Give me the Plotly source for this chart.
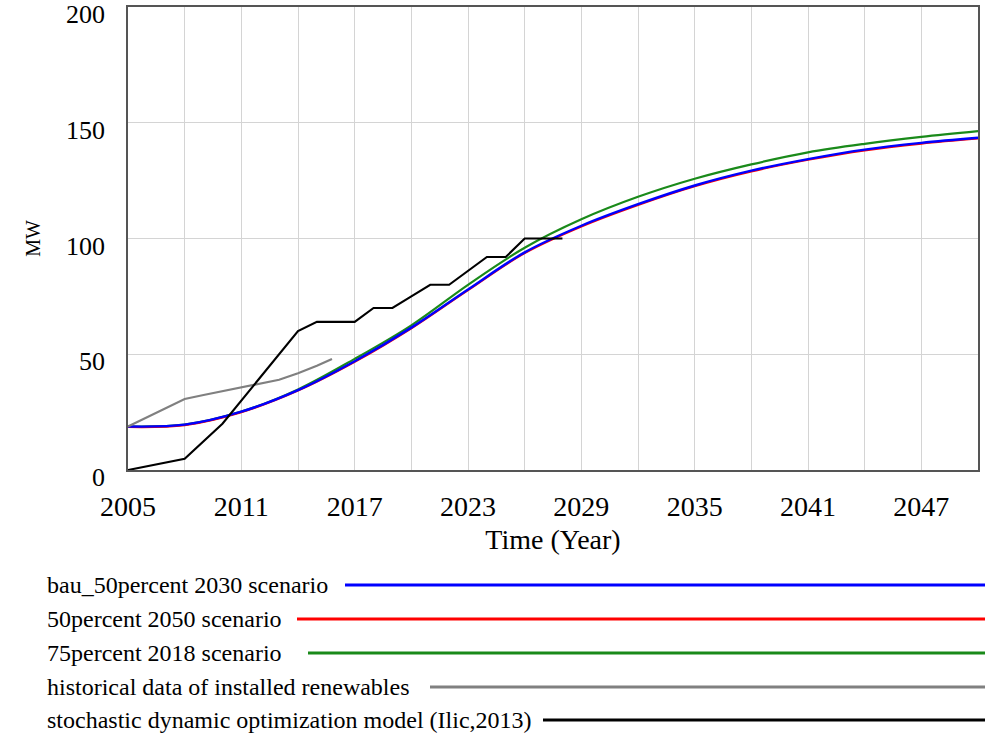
import plotly.graph_objects as go

# ---------------- data ----------------
scenario_years = [2005, 2008, 2011, 2014, 2017, 2020, 2023, 2026, 2029, 2032,
                  2035, 2038, 2041, 2044, 2047, 2050]
bau_50pct_2030 = [18.8, 19.6, 25.2, 34.5, 47.0, 61.5, 78.0, 94.0, 105.5, 114.8,
                  122.9, 129.3, 134.3, 138.4, 141.3, 143.5]
pct50_2050 = [18.6, 19.4, 25.0, 34.3, 46.7, 61.2, 77.7, 93.7, 105.2, 114.5,
              122.6, 129.0, 134.0, 138.1, 141.0, 143.2]
pct75_2018 = [18.8, 19.6, 25.2, 34.8, 48.0, 62.5, 80.0, 96.0, 108.3, 118.0,
              125.8, 132.0, 137.2, 140.9, 143.9, 146.4]

hist_years = [2005, 2008, 2009, 2010, 2011, 2012, 2013, 2014, 2015, 2015.8]
hist_values = [18.8, 30.7, 32.4, 34.0, 35.7, 37.4, 39.0, 41.8, 45.0, 48.0]

sdo_years = [2005, 2008, 2010, 2011, 2012, 2013, 2014, 2015, 2016, 2017, 2018,
             2019, 2020, 2021, 2022, 2023, 2024, 2025, 2026, 2027, 2028]
sdo_values = [0, 4.8, 20, 30, 40, 50, 60, 64, 64, 64, 70,
              70, 75, 80, 80, 86, 92, 92, 100, 100, 100]

series_names = ["bau_50percent 2030 scenario", "50percent 2050 scenario",
                "75percent 2018 scenario", "historical data of installed renewables",
                "stochastic dynamic optimization model (Ilic,2013)"]
series_colors = ["#0000ff", "#ff0000", "#1a8a1a", "#808080", "#000000"]

x_ticks = [2005, 2011, 2017, 2023, 2029, 2035, 2041, 2047]
y_ticks = [0, 50, 100, 150, 200]

# ---------------- layout constants ----------------
W, H = 985, 735
L, R, T, B = 128, 7, 7, 265
PW, PH = W - L - R, H - T - B
FONT = "Liberation Serif, Times New Roman, serif"

def px_x(px):
    return (px - L) / PW

def px_y(py):
    return (H - B - py) / PH

fig = go.Figure()

# draw order: green, red, blue, gray, black
fig.add_trace(go.Scatter(x=scenario_years, y=pct75_2018, mode="lines",
                         line=dict(color=series_colors[2], width=2.2, shape="spline"),
                         name=series_names[2]))
fig.add_trace(go.Scatter(x=scenario_years, y=pct50_2050, mode="lines",
                         line=dict(color=series_colors[1], width=2.2, shape="spline"),
                         name=series_names[1]))
fig.add_trace(go.Scatter(x=scenario_years, y=bau_50pct_2030, mode="lines",
                         line=dict(color=series_colors[0], width=2.4, shape="spline"),
                         name=series_names[0]))
fig.add_trace(go.Scatter(x=hist_years, y=hist_values, mode="lines",
                         line=dict(color=series_colors[3], width=2.2),
                         name=series_names[3]))
fig.add_trace(go.Scatter(x=sdo_years, y=sdo_values, mode="lines",
                         line=dict(color=series_colors[4], width=2.1),
                         name=series_names[4]))

# ---------------- custom legend below ----------------
legend_rows_y = [585, 619, 653, 687, 720]
legend_line_start = [345, 297, 308, 430, 543]
for name, color, ry, lx in zip(series_names, series_colors, legend_rows_y, legend_line_start):
    fig.add_annotation(x=px_x(45), y=px_y(ry), xref="paper", yref="paper",
                       text=name, showarrow=False, xanchor="left", yanchor="middle",
                       font=dict(family=FONT, size=24, color="#000"))
    fig.add_shape(type="line", xref="paper", yref="paper",
                  x0=px_x(lx), x1=px_x(W), y0=px_y(ry), y1=px_y(ry),
                  line=dict(color=color, width=3))

fig.update_layout(
    width=W, height=H,
    margin=dict(l=L, r=R, t=T, b=B, autoexpand=False),
    plot_bgcolor="white", paper_bgcolor="white",
    showlegend=False,
    font=dict(family=FONT, color="#000"),
    xaxis=dict(range=[2005, 2050], tickvals=x_ticks, ticktext=[str(v) for v in x_ticks],
               automargin=False,
               showgrid=True, gridcolor="#d4d4d4", gridwidth=1,
               minor=dict(dtick=3, tick0=2005, showgrid=True, gridcolor="#d4d4d4", gridwidth=1),
               showline=True, linecolor="#555", linewidth=2, mirror=True,
               ticks="", tickfont=dict(family=FONT, size=28), ticklabelstandoff=10,
               zeroline=False,
               title=dict(text="Time (Year)", font=dict(family=FONT, size=28), standoff=9)),
    yaxis=dict(range=[-0.001, 200.001], tickvals=y_ticks,
               automargin=False,
               showgrid=True, gridcolor="#d4d4d4", gridwidth=1,
               showline=True, linecolor="#555", linewidth=1.5, mirror=True,
               ticks="", tickfont=dict(family=FONT, size=26), ticklabelstandoff=16,
               ticklabelshift=7, ticklabeloverflow="allow",
               zeroline=False,
               title=dict(text="MW", font=dict(family=FONT, size=20), standoff=20)),
)

fig.write_html("out.html", config={"displayModeBar": False},
               post_script="document.body.style.margin='0px';")
